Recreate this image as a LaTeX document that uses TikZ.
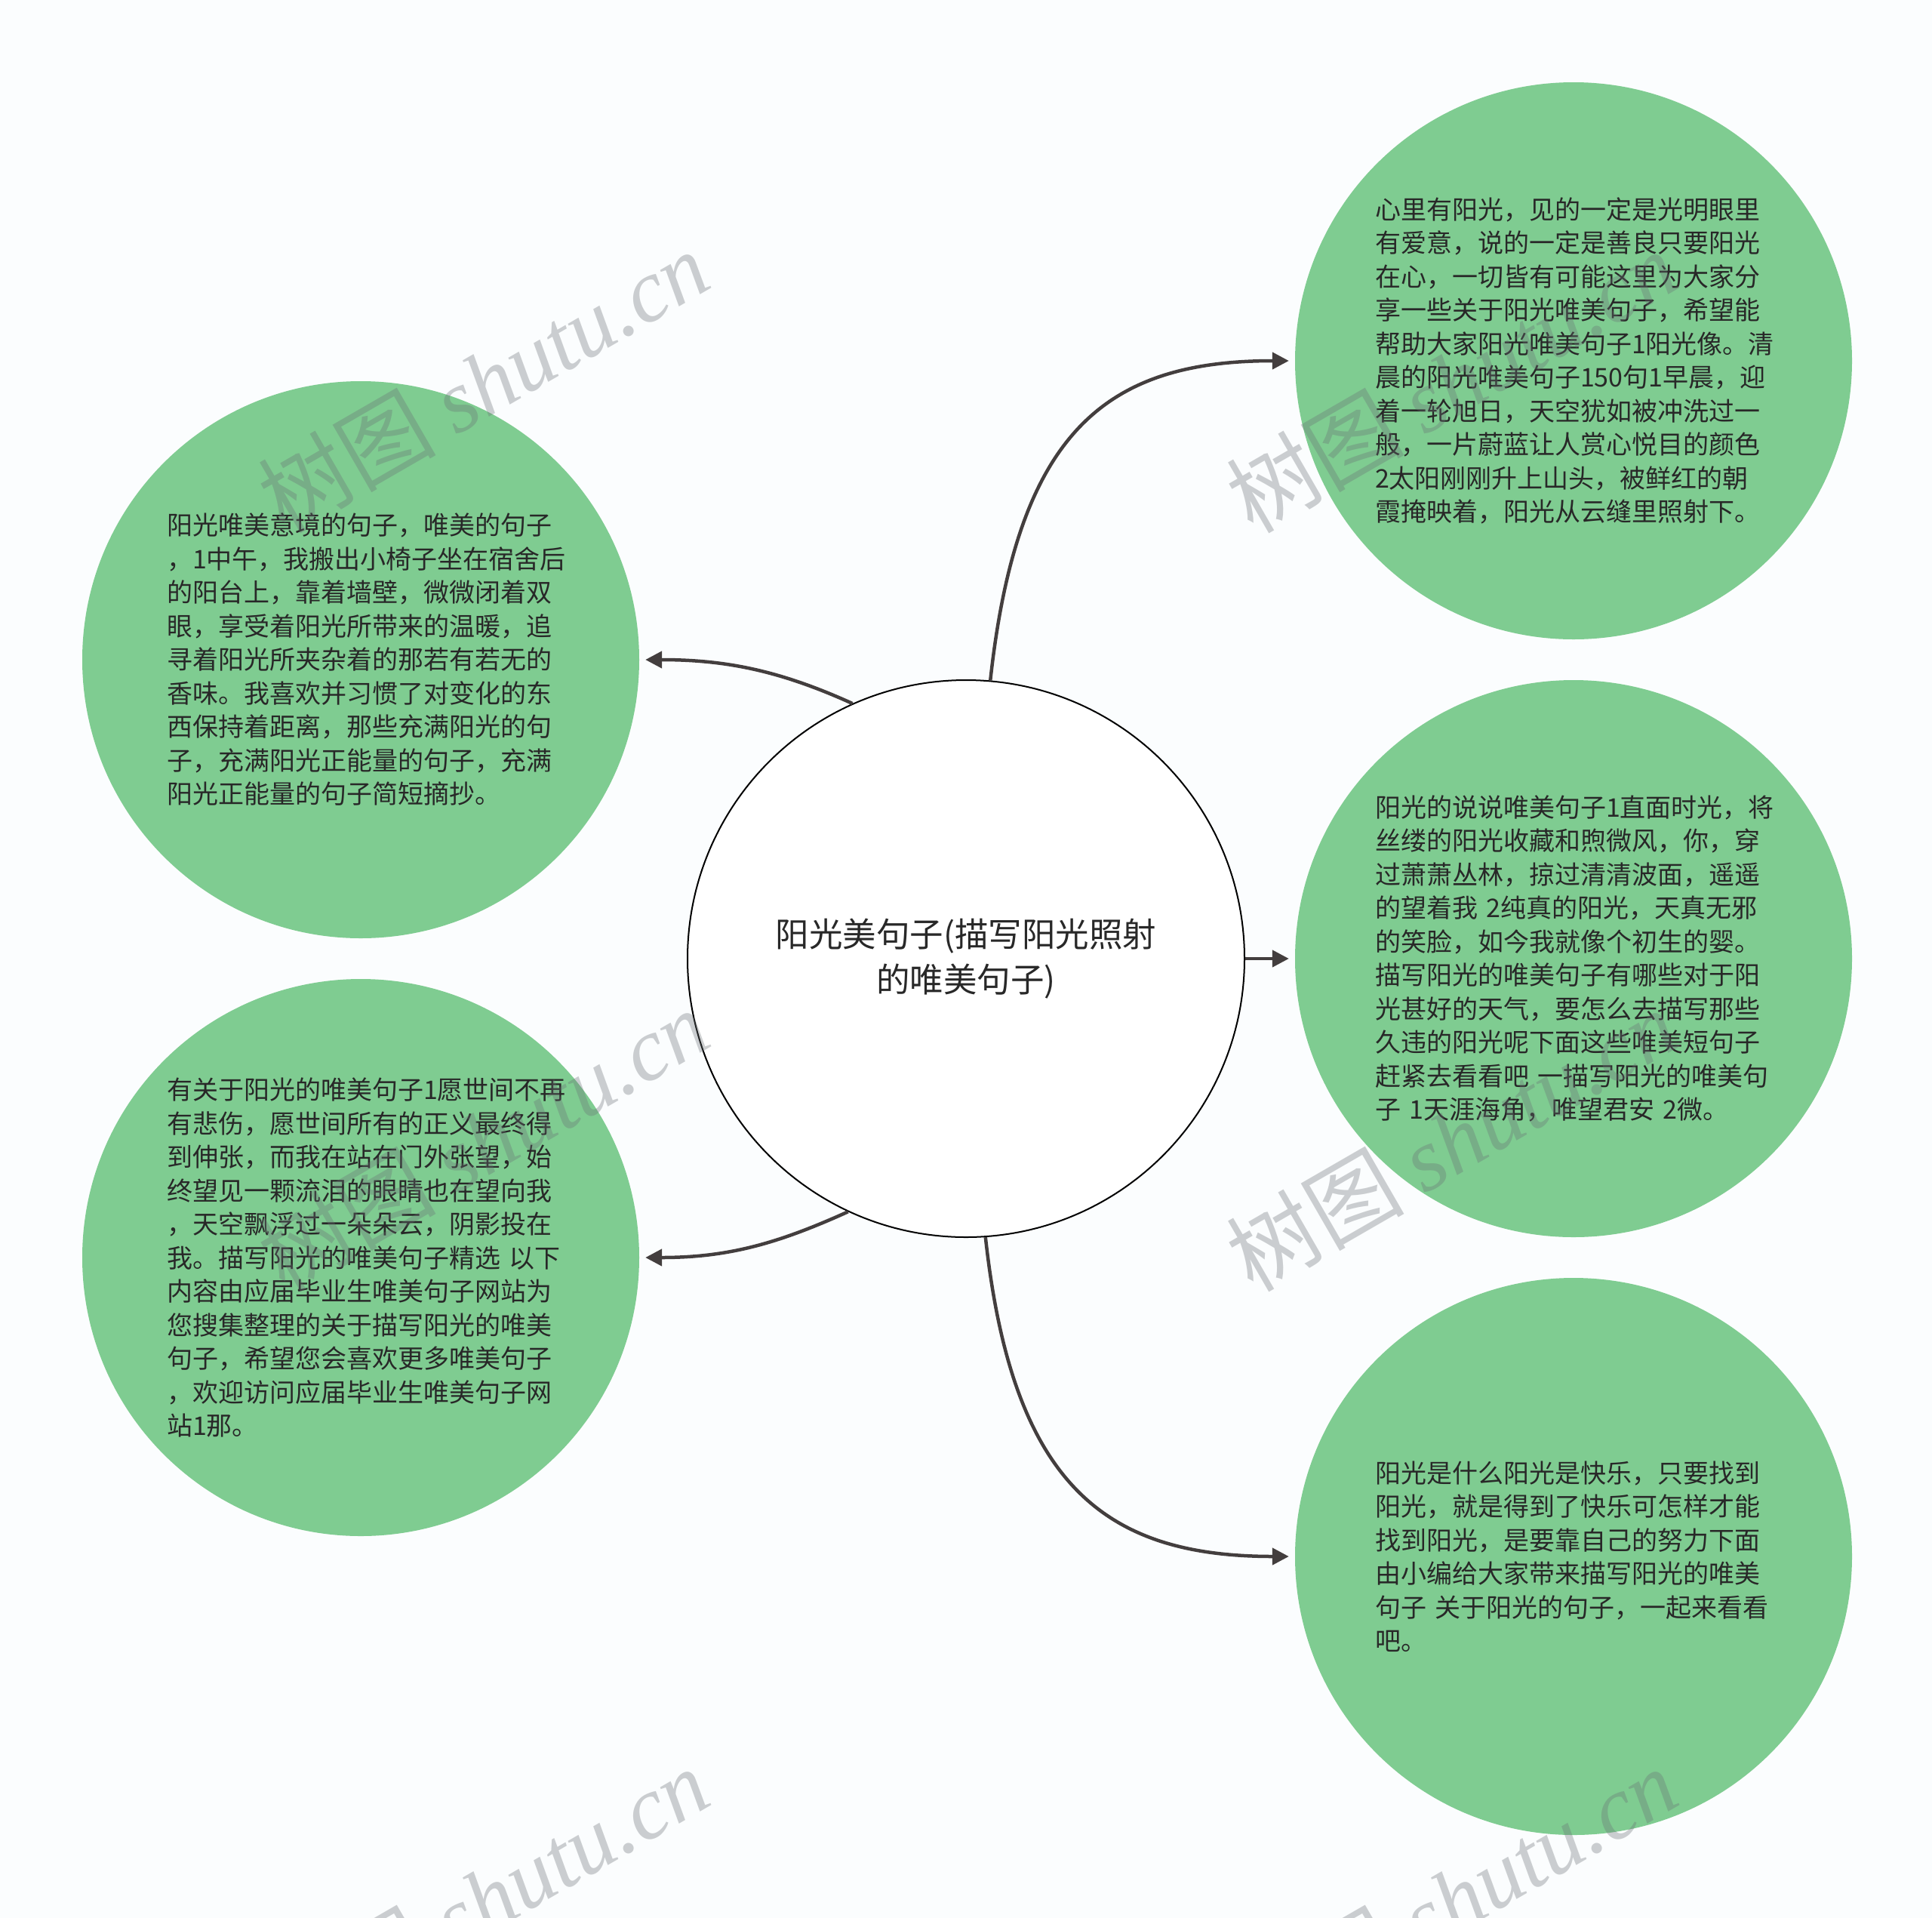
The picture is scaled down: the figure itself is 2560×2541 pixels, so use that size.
\documentclass[tikz,border=0pt]{standalone}
\usepackage{fontspec}
\setmainfont{Noto Sans CJK SC}
\newfontfamily\cjkfont{Noto Sans CJK SC}
\newfontfamily\wmlatin{Liberation Serif}
\usetikzlibrary{arrows.meta}
\definecolor{bgcol}{RGB}{251,253,254}
\definecolor{leafgreen}{RGB}{127,204,145}
\definecolor{txtcol}{RGB}{40,40,40}
\definecolor{linkcol}{RGB}{67,62,62}
\definecolor{wmcol}{RGB}{105,110,115}
\tikzset{
  leaf/.style={circle, fill=leafgreen, draw=none, minimum size=738pt, inner sep=0pt,
    text width=526pt, align=left, text=txtcol,
    font=\cjkfont\fontsize{34pt}{44.5pt}\selectfont},
  leafl/.style={leaf, text width=514pt},
  hub/.style={circle, fill=white, draw=black, line width=2pt, minimum size=738pt, inner sep=0pt,
    align=center, text=txtcol, font=\cjkfont\fontsize{44.5pt}{60pt}\selectfont},
  link/.style={draw=linkcol, line width=4.5pt, -{Triangle[length=22pt,width=22pt]}, shorten >=8pt},
  wm/.style={text=wmcol, opacity=0.33, inner sep=0pt, font=\fontsize{118pt}{120pt}\selectfont}
}
\begin{document}
\begin{tikzpicture}[x=1pt,y=-1pt]
\useasboundingbox (0,0) rectangle (2560,2541);
\clip (0,0) rectangle (2560,2541);
\fill[bgcol] (0,0) rectangle (2560,2541);

\node[hub] (c) at (1280,1270) {阳光美句子(描写阳光照射\\的唯美句子)};

\node[leaf] (tr) at (2085,478) {心里有阳光，见的一定是光明眼里\\有爱意，说的一定是善良只要阳光\\在心，一切皆有可能这里为大家分\\享一些关于阳光唯美句子，希望能\\帮助大家阳光唯美句子1阳光像。清\\晨的阳光唯美句子150句1早晨，迎\\着一轮旭日，天空犹如被冲洗过一\\般，一片蔚蓝让人赏心悦目的颜色\\2太阳刚刚升上山头，被鲜红的朝\\霞掩映着，阳光从云缝里照射下。};

\node[leaf] (rm) at (2085,1270) {阳光的说说唯美句子1直面时光，将\\丝缕的阳光收藏和煦微风，你，穿\\过萧萧丛林，掠过清清波面，遥遥\\的望着我~2纯真的阳光，天真无邪\\的笑脸，如今我就像个初生的婴。\\描写阳光的唯美句子有哪些对于阳\\光甚好的天气，要怎么去描写那些\\久违的阳光呢下面这些唯美短句子\\赶紧去看看吧~一描写阳光的唯美句\\子~1天涯海角，唯望君安~2微。};

\node[leaf] (br) at (2085,2062) {阳光是什么阳光是快乐，只要找到\\阳光，就是得到了快乐可怎样才能\\找到阳光，是要靠自己的努力下面\\由小编给大家带来描写阳光的唯美\\句子~关于阳光的句子，一起来看看\\吧。};

\node[leafl] (lt) at (478,874) {阳光唯美意境的句子，唯美的句子\\，1中午，我搬出小椅子坐在宿舍后\\的阳台上，靠着墙壁，微微闭着双\\眼，享受着阳光所带来的温暖，追\\寻着阳光所夹杂着的那若有若无的\\香味。我喜欢并习惯了对变化的东\\西保持着距离，那些充满阳光的句\\子，充满阳光正能量的句子，充满\\阳光正能量的句子简短摘抄。};

\node[leafl] (lb) at (478,1666) {有关于阳光的唯美句子1愿世间不再\\有悲伤，愿世间所有的正义最终得\\到伸张，而我在站在门外张望，始\\终望见一颗流泪的眼睛也在望向我\\，天空飘浮过一朵朵云，阴影投在\\我。描写阳光的唯美句子精选~以下\\内容由应届毕业生唯美句子网站为\\您搜集整理的关于描写阳光的唯美\\句子，希望您会喜欢更多唯美句子\\，欢迎访问应届毕业生唯美句子网\\站1那。};

\draw[link] (c.85.5) .. controls +(36,-330) and +(-250,0) .. (tr.west);
\draw[link] (c.east) -- (rm.west);
\draw[link] (c.274.5) .. controls +(36,330) and +(-250,0) .. (br.west);
\draw[link] (c.114.2) .. controls +(-95,-43) and +(116,0) .. (lt.east);
\draw[link] (c.245.8) .. controls +(-95,43) and +(116,0) .. (lb.east);

\path (640,505) node[wm,rotate=30] (w1) {树图 {\wmlatin\itshape shutu.cn}};
\path (1923,505) node[wm,rotate=30] (w2) {树图 {\wmlatin\itshape shutu.cn}};
\path (640,1510) node[wm,rotate=30] (w3) {树图 {\wmlatin\itshape shutu.cn}};
\path (1923,1510) node[wm,rotate=30] (w4) {树图 {\wmlatin\itshape shutu.cn}};
\path (640,2515) node[wm,rotate=30] (w5) {树图 {\wmlatin\itshape shutu.cn}};
\path (1923,2515) node[wm,rotate=30] (w6) {树图 {\wmlatin\itshape shutu.cn}};
\end{tikzpicture}
\end{document}
